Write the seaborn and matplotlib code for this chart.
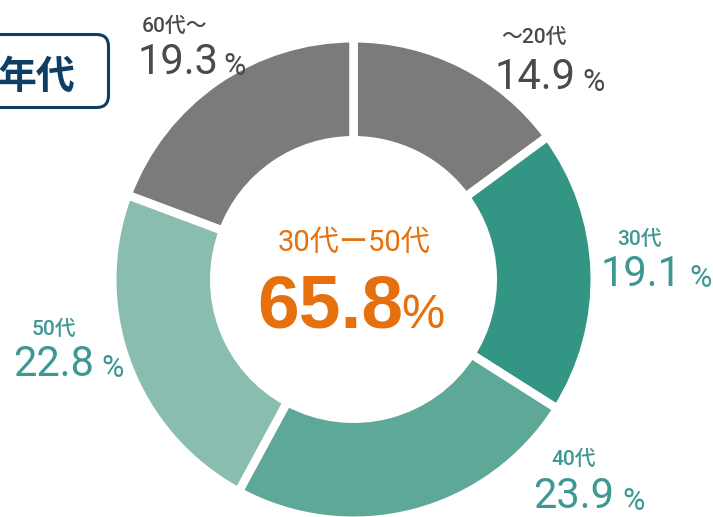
import matplotlib
matplotlib.use("Agg")
import matplotlib.pyplot as plt
import seaborn as sns
from matplotlib import font_manager
from matplotlib.patches import FancyBboxPatch

# ---- data ----
categories = ["～20代", "30代", "40代", "50代", "60代～"]
shares = [14.9, 19.1, 23.9, 22.8, 19.3]
center_title = "30代ー50代"
center_value = 65.8
box_title = "年代"

# ---- style ----
sns.set_theme(style="white")
names = {f.name for f in font_manager.fontManager.ttflist}
NUM = "Liberation Sans Narrow" if "Liberation Sans Narrow" in names else "Roboto"
CJK = "Noto Sans CJK JP"
plt.rcParams["font.family"] = ["Roboto", CJK, "DejaVu Sans"]

GRAY = "#7b7b7b"
palette = sns.color_palette([GRAY, "#339684", "#5ea897", "#89bdb0", GRAY])
label_colors = ["#4a4a4a", "#3d9893", "#3d9893", "#3d9893", "#4a4a4a"]
ORANGE = "#e6700d"
NAVY = "#0f3e64"

W, H = 713, 517
fig = plt.figure(figsize=(W / 100, H / 100), dpi=100)
ax = fig.add_axes([0, 0, 1, 1])

cx, cy = 353.5, H - 279.5
gap = 8.5
R = 237 + gap / 2
r_in = 143.5 - gap / 2
ax.pie(shares, colors=palette, startangle=90, counterclock=False,
       radius=R, center=(cx, cy), frame=True,
       wedgeprops=dict(width=R - r_in, edgecolor="white", linewidth=gap * 72 / 100))
ax.set_xlim(0, W)
ax.set_ylim(0, H)
ax.set_aspect("equal")
ax.axis("off")


def T(x, y, s, **kw):
    ax.text(x, H - y, s, **kw)


# label layout: (small label left, baseline), (number left, baseline), (% left, baseline)
layout = [
    ((501, 43), (495, 89), (582, 91)),
    ((617, 245), (601, 286), (689, 287)),
    ((551, 465), (533, 508), (622, 510)),
    ((32, 335), (13, 376), (101, 377)),
    ((142, 32), (138, 74), (223, 75)),
]
for cat, val, col, (p1, p2, p3) in zip(categories, shares, label_colors, layout):
    T(*p1, cat, fontsize=15, color=col, ha="left", va="baseline",
      family=["Roboto", CJK], fontweight="medium")
    T(*p2, f"{val:.1f}", fontsize=30, color=col, ha="left", va="baseline",
      family=[NUM])
    T(*p3, "%", fontsize=22, color=col, ha="left", va="baseline",
      family=[NUM])

# centre
T(cx + 1, 251, center_title, fontsize=21, color=ORANGE, ha="center",
  va="baseline", family=["Roboto", CJK])
T(257, 328, f"{center_value:.1f}", fontsize=54, color=ORANGE, ha="left",
  va="baseline", family=["Liberation Sans"], fontweight="bold")
T(401, 328, "%", fontsize=35, color=ORANGE, ha="left", va="baseline",
  family=["Liberation Sans"])

# title box
box = FancyBboxPatch((-30, H - 107.5), 138.5, 73,
                     boxstyle="round,pad=0,rounding_size=12",
                     fc="white", ec=NAVY, lw=2.2, clip_on=False)
ax.add_patch(box)
T(75, 89, box_title, fontsize=28, color=NAVY, ha="right", va="baseline",
  family=[CJK], fontweight="bold")

fig.savefig("out.png", dpi=100)
